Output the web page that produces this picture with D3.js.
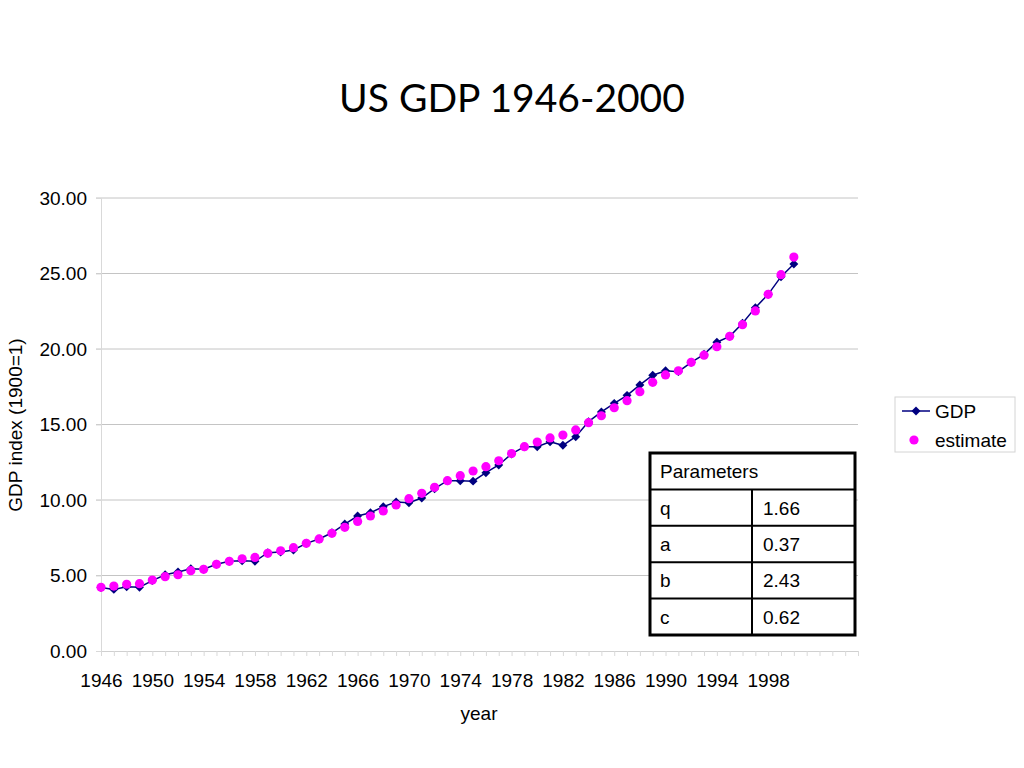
<!DOCTYPE html>
<html><head><meta charset="utf-8">
<script src="https://cdn.jsdelivr.net/npm/d3@7"></script>
<style>body{margin:0;background:#fff}svg{display:block}</style>
</head><body>
<svg id="c" width="1024" height="768"></svg>
<script>
const years = [1946,1947,1948,1949,1950,1951,1952,1953,1954,1955,1956,1957,1958,1959,1960,1961,1962,1963,1964,1965,1966,1967,1968,1969,1970,1971,1972,1973,1974,1975,1976,1977,1978,1979,1980,1981,1982,1983,1984,1985,1986,1987,1988,1989,1990,1991,1992,1993,1994,1995,1996,1997,1998,1999,2000];
const gdp = [4.20,4.08,4.26,4.22,4.66,5.05,5.23,5.45,5.41,5.74,
             5.94,5.98,5.94,6.51,6.56,6.69,7.13,7.42,7.83,8.41,
             8.94,9.16,9.56,9.87,9.82,10.13,10.75,11.28,11.28,11.25,
             11.81,12.32,13.05,13.53,13.53,13.86,13.62,14.19,15.19,15.83,
             16.40,16.93,17.62,18.26,18.56,18.50,19.12,19.65,20.45,20.84,
             21.70,22.74,23.62,24.79,25.63];
const estimate = [4.22,4.30,4.42,4.46,4.70,4.92,5.05,5.32,5.41,5.74,
                  5.94,6.11,6.20,6.47,6.64,6.84,7.13,7.42,7.79,8.19,
                  8.58,8.94,9.27,9.67,10.09,10.44,10.84,11.28,11.61,11.92,
                  12.21,12.60,13.08,13.53,13.84,14.11,14.30,14.64,15.12,15.58,
                  16.11,16.58,17.17,17.79,18.28,18.56,19.12,19.59,20.15,20.84,
                  21.61,22.52,23.62,24.92,26.09];
const xTickLabels = [1946,1950,1954,1958,1962,1966,1970,1974,1978,1982,1986,1990,1994,1998];
const yTicks = [0,5,10,15,20,25,30];
const paramNames = ["q","a","b","c"];
const paramValues = ["1.66","0.37","2.43","0.62"];

const svg = d3.select("#c");
const L = 101, R = 858, T = 198, B = 651;
const axisCats = d3.range(1946, 2006);
const x = d3.scalePoint().domain(axisCats).range([L, R]);
const y = d3.scaleLinear().domain([0, 30]).range([B, T]);
const font = "'Liberation Sans', Arial, sans-serif";
const fs = 19;

// title
svg.append("text").attr("x", 512).attr("y", 112).attr("text-anchor", "middle")
  .attr("font-family", "Lato, 'Open Sans', sans-serif").attr("font-size", 39).attr("fill", "#000")
  .text("US GDP 1946-2000");

// gridlines
svg.append("g").selectAll("line").data(yTicks.filter(d => d > 0)).join("line")
  .attr("x1", L - 5).attr("x2", R).attr("y1", d => y(d)).attr("y2", d => y(d))
  .attr("stroke", "#c4c4c4").attr("stroke-width", 1);

// y axis
const yAxis = svg.append("g").attr("transform", `translate(${L},0)`)
  .call(d3.axisLeft(y).tickValues(yTicks).tickFormat(d3.format(".2f")).tickSize(5).tickPadding(9));
yAxis.select(".domain").attr("stroke", "#d9d9d9");
yAxis.selectAll(".tick line").attr("stroke", "#d9d9d9");
yAxis.selectAll("text").attr("font-family", font).attr("font-size", fs).attr("fill", "#000");

// x axis
const xAxis = svg.append("g").attr("transform", `translate(0,${B})`)
  .call(d3.axisBottom(x).tickValues(axisCats).tickSize(5).tickPadding(18)
    .tickFormat(d => xTickLabels.includes(d) ? String(d) : ""));
xAxis.select(".domain").attr("stroke", "#d0d0d0");
xAxis.selectAll(".tick line").attr("stroke", "#d9d9d9");
xAxis.selectAll("text").attr("font-family", font).attr("font-size", fs).attr("fill", "#000");

// axis titles
svg.append("text").attr("x", 479).attr("y", 720).attr("text-anchor", "middle")
  .attr("font-family", font).attr("font-size", fs).text("year");
svg.append("text").attr("transform", "translate(22,425) rotate(-90)").attr("text-anchor", "middle")
  .attr("font-family", font).attr("font-size", fs).text("GDP index (1900=1)");

// GDP line
const line = d3.line().x((d, i) => x(years[i])).y(d => y(d));
svg.append("path").datum(gdp).attr("d", line).attr("fill", "none")
  .attr("stroke", "#000080").attr("stroke-width", 1.5);
const diamond = d3.symbol().type(d3.symbolSquare).size(40);
svg.append("g").selectAll("path").data(gdp).join("path")
  .attr("d", diamond).attr("transform", (d, i) => `translate(${x(years[i])},${y(d)}) rotate(45)`)
  .attr("fill", "#000080");

// estimate points
svg.append("g").selectAll("circle").data(estimate).join("circle")
  .attr("cx", (d, i) => x(years[i])).attr("cy", d => y(d)).attr("r", 4.6)
  .attr("fill", "#ff00ff");

// legend
const lg = svg.append("g");
lg.append("rect").attr("x", 895).attr("y", 397).attr("width", 120).attr("height", 55)
  .attr("fill", "#fff").attr("stroke", "#d4d4d4");
lg.append("line").attr("x1", 902).attr("x2", 930).attr("y1", 411).attr("y2", 411)
  .attr("stroke", "#000080").attr("stroke-width", 1.5);
lg.append("path").attr("d", diamond).attr("transform", "translate(916,411) rotate(45)").attr("fill", "#000080");
lg.append("circle").attr("cx", 914).attr("cy", 440).attr("r", 4.6).attr("fill", "#ff00ff");
lg.append("text").attr("x", 935).attr("y", 418).attr("font-family", font).attr("font-size", fs).text("GDP");
lg.append("text").attr("x", 935).attr("y", 447).attr("font-family", font).attr("font-size", fs).text("estimate");

// parameters table
const tb = svg.append("g");
const tx0 = 650, tx1 = 855, tcol = 752, ty0 = 453, rowH = 36.4;
tb.append("rect").attr("x", tx0).attr("y", ty0).attr("width", tx1 - tx0).attr("height", rowH * 5)
  .attr("fill", "#fff").attr("stroke", "#000").attr("stroke-width", 3);
tb.selectAll("line.h").data(paramNames).join("line").attr("class", "h")
  .attr("x1", tx0).attr("x2", tx1).attr("y1", (d, i) => ty0 + rowH * (i + 1)).attr("y2", (d, i) => ty0 + rowH * (i + 1))
  .attr("stroke", "#000").attr("stroke-width", 2);
tb.append("line").attr("x1", tcol).attr("x2", tcol).attr("y1", ty0 + rowH).attr("y2", ty0 + rowH * 5)
  .attr("stroke", "#000").attr("stroke-width", 2);
tb.append("text").attr("x", 660).attr("y", ty0 + rowH / 2 + 7).attr("font-family", font).attr("font-size", fs).text("Parameters");
tb.selectAll("text.n").data(paramNames).join("text").attr("class", "n")
  .attr("x", 660).attr("y", (d, i) => ty0 + rowH * (i + 1.5) + 7).attr("font-family", font).attr("font-size", fs).text(d => d);
tb.selectAll("text.v").data(paramValues).join("text").attr("class", "v")
  .attr("x", 763).attr("y", (d, i) => ty0 + rowH * (i + 1.5) + 7).attr("font-family", font).attr("font-size", fs).text(d => d);
</script>
</body></html>
